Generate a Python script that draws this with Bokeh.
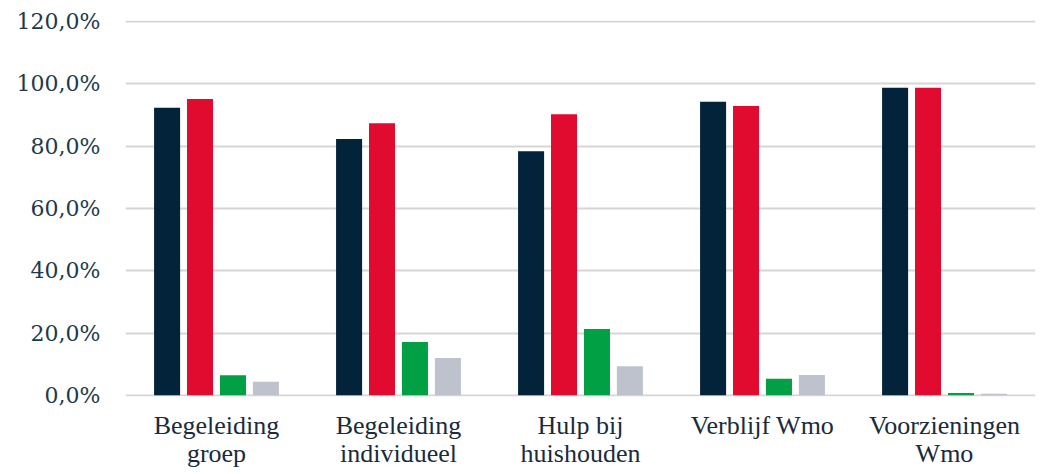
from bokeh.plotting import figure
from bokeh.models import ColumnDataSource, Range1d, FactorRange, FixedTicker
from bokeh.transform import dodge
from bokeh.embed import file_html
from bokeh.resources import INLINE

categories = ["Begeleiding\ngroep", "Begeleiding\nindividueel", "Hulp bij\nhuishouden",
              "Verblijf Wmo", "Voorzieningen\nWmo"]
series1 = [92.4, 82.3, 78.4, 94.3, 98.8]   # navy
series2 = [95.2, 87.4, 90.3, 92.9, 98.8]   # red
series3 = [6.4, 17.1, 21.3, 5.3, 0.7]      # green
series4 = [4.3, 12.0, 9.3, 6.5, 0.5]       # gray
tick_values = [0, 20, 40, 60, 80, 100, 120]
tick_labels = ["0,0%", "20,0%", "40,0%", "60,0%", "80,0%", "100,0%", "120,0%"]

colors = ["#03233a", "#e00b2e", "#02a045", "#bdc2cd"]

source = ColumnDataSource(dict(cat=categories, s1=series1, s2=series2, s3=series3, s4=series4))

p = figure(x_range=FactorRange(*categories), y_range=Range1d(-0.4, 120.4),
           frame_width=910, frame_height=376, output_backend="svg", toolbar_location=None,
           min_border_left=125, min_border_right=2, min_border_top=20, min_border_bottom=10)

step = 0.181
width = 0.143
for i, (col, c) in enumerate(zip(["s1", "s2", "s3", "s4"], colors)):
    off = (i - 1.5) * step
    p.vbar(x=dodge("cat", off, range=p.x_range), top=col, width=width, source=source,
           fill_color=c, line_color=None)

p.outline_line_color = None
p.background_fill_color = "white"
p.border_fill_color = "white"

p.xgrid.grid_line_color = None
p.ygrid.ticker = FixedTicker(ticks=tick_values)
p.ygrid.grid_line_color = "#d6d6d6"
p.ygrid.grid_line_width = 2

p.yaxis.ticker = FixedTicker(ticks=tick_values)
p.yaxis.major_label_overrides = {v: l for v, l in zip(tick_values, tick_labels)}
p.yaxis.axis_line_color = None
p.yaxis.major_tick_line_color = None
p.yaxis.minor_tick_line_color = None
p.yaxis.major_label_standoff = 19
p.yaxis.major_label_text_font = "DejaVu Serif"
p.yaxis.major_label_text_font_size = "22px"
p.yaxis.major_label_text_color = "#1e3a4e"

p.xaxis.axis_line_color = None
p.xaxis.major_tick_line_color = None
p.xaxis.minor_tick_line_color = None
p.xaxis.major_label_standoff = 8
p.xaxis.major_label_text_font = "Liberation Serif"
p.xaxis.major_label_text_font_size = "26px"
p.xaxis.major_label_text_color = "#1a2b3c"
p.xaxis.major_label_text_line_height = 0.98

open("out.html", "w").write(file_html(p, INLINE))
